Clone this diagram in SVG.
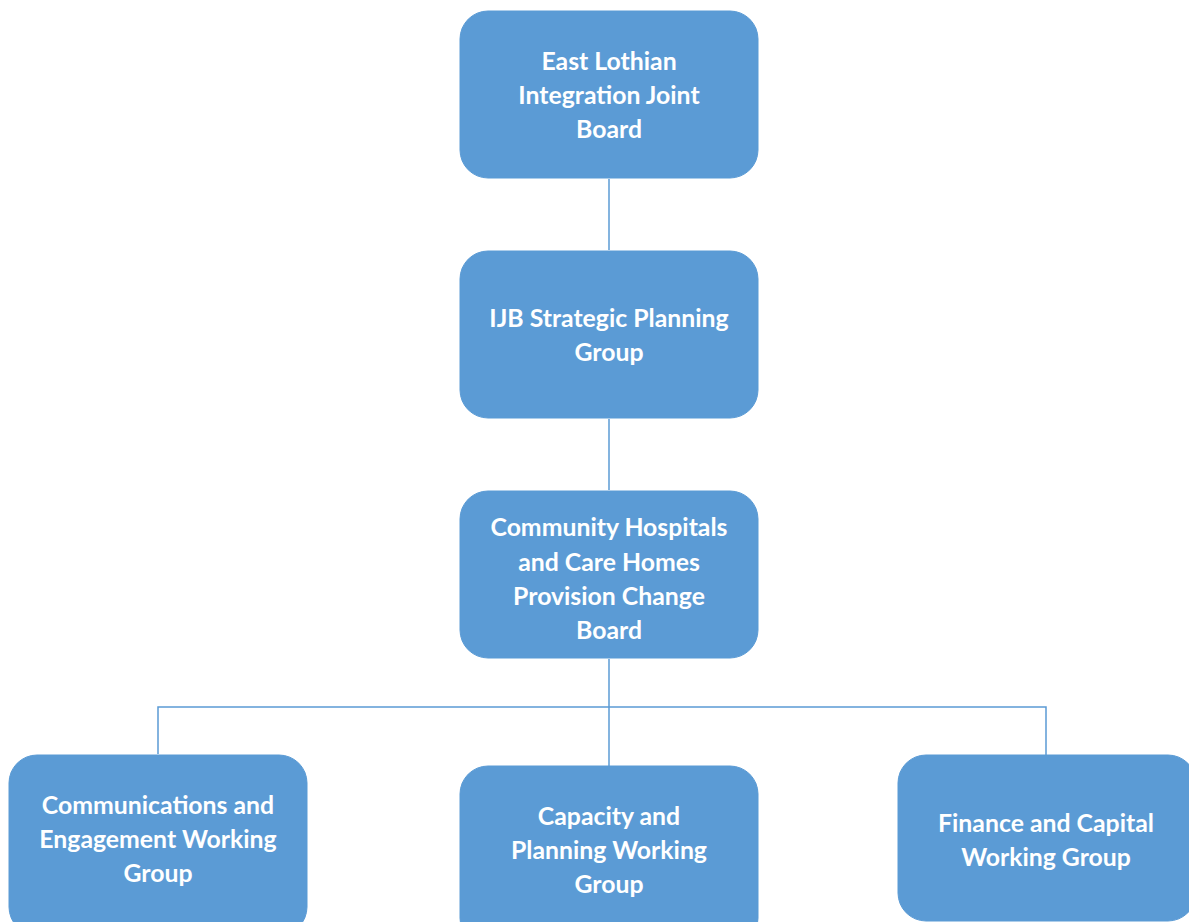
<svg xmlns="http://www.w3.org/2000/svg" width="1189" height="922" viewBox="0 0 1189 922">
<style>
.box{fill:#5B9BD5;stroke:#5B9BD5;stroke-width:1}
.lbl{font-family:Lato,"Open Sans","Liberation Sans",sans-serif;font-weight:bold;font-size:24.8px;fill:#ffffff;text-anchor:middle}
.conn{stroke:#5B9BD5;stroke-width:1.5;fill:none}
</style>
<rect x="0" y="0" width="1189" height="922" fill="#ffffff"/>
<g id="connectors">
<line class="conn" x1="609" y1="179" x2="609" y2="250"/>
<line class="conn" x1="609" y1="419" x2="609" y2="490"/>
<line class="conn" x1="609" y1="659" x2="609" y2="766"/>
<polyline class="conn" points="158,754 158,707 1046,707 1046,755"/>
</g>
<g id="n1">
<rect class="box" x="460" y="11" width="298" height="167" rx="28"/>
<text class="lbl" x="609" y="70">East Lothian</text>
<text class="lbl" x="609" y="104">Integration Joint</text>
<text class="lbl" x="609" y="138">Board</text>
</g>
<g id="n2">
<rect class="box" x="460" y="251" width="298" height="167" rx="28"/>
<text class="lbl" x="609" y="327">IJB Strategic Planning</text>
<text class="lbl" x="609" y="361">Group</text>
</g>
<g id="n3">
<rect class="box" x="460" y="491" width="298" height="167" rx="28"/>
<text class="lbl" x="609" y="536">Community Hospitals</text>
<text class="lbl" x="609" y="571">and Care Homes</text>
<text class="lbl" x="609" y="605">Provision Change</text>
<text class="lbl" x="609" y="639">Board</text>
</g>
<g id="n4">
<rect class="box" x="9" y="755" width="298" height="180" rx="28"/>
<text class="lbl" x="158" y="814">Communications and</text>
<text class="lbl" x="158" y="848">Engagement Working</text>
<text class="lbl" x="158" y="882">Group</text>
</g>
<g id="n5">
<rect class="box" x="460" y="766" width="298" height="180" rx="28"/>
<text class="lbl" x="609" y="825">Capacity and</text>
<text class="lbl" x="609" y="859">Planning Working</text>
<text class="lbl" x="609" y="893">Group</text>
</g>
<g id="n6">
<rect class="box" x="898" y="755" width="298" height="166" rx="28"/>
<text class="lbl" x="1046" y="832">Finance and Capital</text>
<text class="lbl" x="1046" y="866">Working Group</text>
</g>
</svg>
